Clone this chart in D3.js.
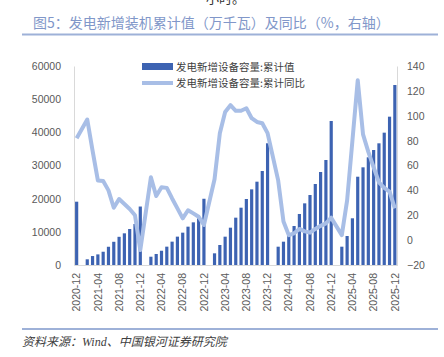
<!DOCTYPE html>
<html><head><meta charset="utf-8">
<script src="https://cdn.jsdelivr.net/npm/d3@7"></script>
<style>
html,body{margin:0;padding:0;background:#fff;}
svg{display:block;}
</style></head>
<body>
<script>
const months = [
"2020-12",
"2021-01","2021-02","2021-03","2021-04","2021-05","2021-06","2021-07","2021-08","2021-09","2021-10","2021-11","2021-12",
"2022-01","2022-02","2022-03","2022-04","2022-05","2022-06","2022-07","2022-08","2022-09","2022-10","2022-11","2022-12",
"2023-01","2023-02","2023-03","2023-04","2023-05","2023-06","2023-07","2023-08","2023-09","2023-10","2023-11","2023-12",
"2024-01","2024-02","2024-03","2024-04","2024-05","2024-06","2024-07","2024-08","2024-09","2024-10","2024-11","2024-12",
"2025-01","2025-02","2025-03","2025-04","2025-05","2025-06","2025-07","2025-08","2025-09","2025-10","2025-11","2025-12"
];
// 发电新增设备容量:累计值 (万千瓦)
const capacity = [
19087,
null,1720,2700,3200,4000,5500,7000,8500,9550,10850,12360,17629,
null,2500,3320,4300,5530,7040,8550,9750,11560,12860,14070,19974,
null,3520,6030,8540,11250,14270,17280,19900,22810,25120,28340,36700,
null,5520,7030,9050,11760,15380,18590,21100,24420,28040,31660,43420,
null,5520,8740,14080,26620,29450,32470,34670,36690,39900,44720,54270
];
// 发电新增设备容量:累计同比 (%)
const yoy = [
82,
null,97,72,48,47.5,40,26,33,29,25,20,-8,
null,50.5,35.5,42.5,42,33.5,25.5,17.5,24,21.5,18.8,12.2,
null,49,86,103,108.5,104,104,106,98,95,94,86,
null,48,15,4,5.5,9,7,6,9,11.5,13.5,18,
null,4,32,80,128.5,85,71,58.5,46.5,42,39,25.5
];
const xTickLabels = ["2020-12","2021-04","2021-08","2021-12","2022-04","2022-08","2022-12","2023-04","2023-08","2023-12","2024-04","2024-08","2024-12","2025-04","2025-08","2025-12"];
const leftTicks = [0,10000,20000,30000,40000,50000,60000];
const rightTicks = [-20,0,20,40,60,80,100,120,140];
const seriesNames = ["发电新增设备容量:累计值","发电新增设备容量:累计同比"];
const titleText = "图5：发电新增装机累计值（万千瓦）及同比（%，右轴）";
const sourceText = "资料来源：Wind、中国银河证券研究院";

const W = 444, H = 357;
const barColor = "#3D63B2", lineColor = "#A8BEE6", headColor = "#8197C9", ruleColor = "#9EB1D8";
const svg = d3.select("body").append("svg").attr("width", W).attr("height", H);

// cropped text at very top
svg.append("text").attr("x", 206).attr("y", 3).attr("font-family", "Noto Sans CJK SC")
  .attr("font-size", 13).attr("fill", "#333").text("小时。");

// title
svg.append("text").attr("x", 33).attr("y", 28).attr("font-family", "Noto Sans CJK SC")
  .attr("font-size", 14).attr("fill", headColor).text(titleText);
svg.append("line").attr("x1", 22).attr("x2", 438).attr("y1", 34.5).attr("y2", 34.5)
  .attr("stroke", ruleColor).attr("stroke-width", 2);

const x = d3.scaleBand().domain(months).range([74, 397.5]).paddingInner(0.4).paddingOuter(0.2);
const yL = d3.scaleLinear().domain([0, 60000]).range([265, 66]);
const yR = d3.scaleLinear().domain([-20, 140]).range([265, 66]);

// axes
const axL = svg.append("g").attr("transform", "translate(74,0)")
  .call(d3.axisLeft(yL).tickValues(leftTicks).tickSize(0).tickPadding(13).tickFormat(d3.format("d")));
const axR = svg.append("g").attr("transform", "translate(397,0)")
  .call(d3.axisRight(yR).tickValues(rightTicks).tickSize(0).tickPadding(10).tickFormat(d3.format("d")));
const axB = svg.append("g").attr("transform", "translate(0,265)")
  .call(d3.axisBottom(x).tickValues(xTickLabels).tickSize(0).tickPadding(0));
[axL, axR, axB].forEach(a => {
  a.select(".domain").attr("stroke", "#D9D9D9");
  a.selectAll("text").attr("font-family", "Liberation Sans, Arial").attr("font-size", 10.5).attr("fill", "#595959");
});
axB.selectAll("text").attr("transform", "rotate(-90)").attr("text-anchor", "end")
  .attr("x", -8).attr("y", 0).attr("dy", "0.35em");

// bars
const barData = months.map((m, i) => ({m, v: capacity[i]})).filter(d => d.v != null);
svg.append("g").selectAll("rect").data(barData).join("rect")
  .attr("x", d => x(d.m)).attr("width", x.bandwidth())
  .attr("y", d => yL(d.v)).attr("height", d => yL(0) - yL(d.v))
  .attr("fill", barColor);

// line
const lineData = months.map((m, i) => ({m, v: yoy[i]})).filter(d => d.v != null);
const line = d3.line().x(d => x(d.m) + x.bandwidth() / 2).y(d => yR(d.v));
svg.append("path").datum(lineData).attr("d", line).attr("fill", "none")
  .attr("stroke", lineColor).attr("stroke-width", 4).attr("stroke-linejoin", "round").attr("stroke-linecap", "butt");

// legend
const lg = svg.append("g");
lg.append("rect").attr("x", 142).attr("y", 63).attr("width", 31).attr("height", 7).attr("fill", barColor);
lg.append("text").attr("x", 176).attr("y", 70.5).attr("font-family", "Noto Sans CJK SC")
  .attr("font-size", 10.5).attr("fill", "#404040").text(seriesNames[0]);
lg.append("line").attr("x1", 142).attr("x2", 173).attr("y1", 83).attr("y2", 83)
  .attr("stroke", lineColor).attr("stroke-width", 4);
lg.append("text").attr("x", 176).attr("y", 87).attr("font-family", "Noto Sans CJK SC")
  .attr("font-size", 10.5).attr("fill", "#404040").text(seriesNames[1]);

// footer
svg.append("line").attr("x1", 22).attr("x2", 438).attr("y1", 329).attr("y2", 329)
  .attr("stroke", ruleColor).attr("stroke-width", 2);
svg.append("text").attr("x", 22).attr("y", 346).attr("font-family", "Liberation Serif, Noto Sans CJK SC")
  .attr("font-style", "italic").attr("font-size", 12).attr("fill", "#404040").text(sourceText);
</script>
</body></html>
